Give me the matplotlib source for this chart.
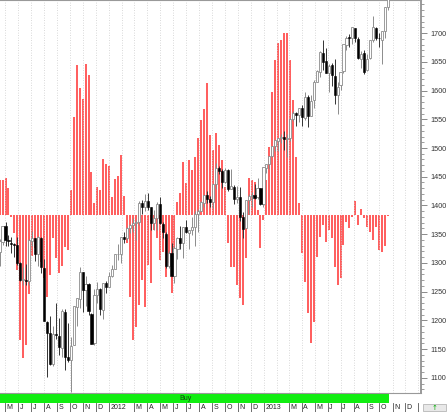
import matplotlib
matplotlib.use('Agg')
import matplotlib.pyplot as plt
import matplotlib.dates as mdates
from matplotlib.patches import Rectangle
from matplotlib.ticker import MultipleLocator
import numpy as np
import pandas as pd

plt.rcParams['font.family'] = ['Liberation Sans', 'DejaVu Sans']

# weekly candles, first week starting 2011-04-18
first_week = '2011-04-18'
opens = [1319.7, 1337, 1365, 1340, 1334, 1333, 1331, 1300, 1271, 1271,
         1268, 1339, 1343, 1315, 1344, 1292, 1198, 1179, 1124, 1177,
         1173, 1153, 1214, 1137, 1131, 1158, 1224, 1238, 1284, 1253,
         1263, 1212, 1161, 1244, 1255, 1219, 1265,
         1258, 1277, 1290, 1315, 1316, 1345, 1343, 1361, 1366, 1370,
         1371, 1404, 1397, 1408, 1397, 1370, 1378, 1403, 1368, 1351,
         1295, 1318, 1278, 1325, 1343, 1334, 1362, 1353, 1357, 1362,
         1386, 1391, 1405, 1418, 1411, 1406, 1438, 1465, 1460, 1441,
         1461, 1428, 1433, 1412, 1414, 1380, 1360, 1409, 1416, 1418,
         1414, 1430, 1402,
         1466, 1472, 1486, 1503, 1513, 1518, 1520, 1516, 1518, 1551,
         1561, 1557, 1569, 1553, 1589, 1556, 1583, 1614, 1633, 1666,
         1652, 1631, 1644, 1626, 1592, 1609, 1634, 1680, 1693, 1691,
         1708, 1689, 1655, 1665, 1636, 1656, 1688, 1709, 1691, 1688,
         1703, 1745]
highs = [1341, 1364.6, 1370.6, 1348, 1346, 1334, 1346, 1302, 1293, 1298,
         1341, 1356, 1344, 1347, 1345, 1307, 1199, 1208, 1190, 1230,
         1204, 1220, 1220, 1195, 1171, 1224.6, 1239, 1292.7, 1285, 1277,
         1266, 1213, 1255, 1267, 1256, 1265.4, 1269,
         1284, 1296, 1315.5, 1333, 1345, 1354, 1363, 1368, 1378, 1374,
         1407, 1409, 1420, 1422, 1397, 1392, 1406, 1415, 1372, 1354,
         1321, 1334, 1330, 1345, 1364, 1363, 1375, 1357, 1380, 1391,
         1394, 1408, 1419, 1426, 1416, 1438, 1474, 1468, 1464, 1465,
         1464, 1464, 1435, 1434, 1433, 1388, 1410, 1420, 1424, 1438,
         1448, 1431, 1467,
         1473, 1486, 1503, 1514, 1518, 1525, 1530, 1525, 1552, 1564,
         1563, 1570, 1574, 1597, 1593, 1592, 1618, 1635, 1668, 1687,
         1674, 1646, 1648, 1654, 1615, 1632, 1680, 1694, 1698, 1710,
         1709, 1693, 1669, 1670, 1664, 1688, 1730, 1710, 1700, 1704,
         1745, 1760]
lows = [1295, 1331, 1329, 1329, 1318, 1311, 1297, 1268, 1262, 1262,
        1262, 1330, 1303, 1295, 1282, 1199, 1102, 1123, 1121, 1167,
        1140, 1137, 1114, 1128, 1074.8, 1157, 1191, 1221, 1215, 1226,
        1209, 1158.7, 1158, 1231, 1209, 1202, 1248,
        1258, 1275, 1290, 1306, 1300, 1335, 1340, 1352, 1354, 1340,
        1366, 1386, 1391, 1392, 1357, 1358, 1358, 1367, 1343, 1292,
        1291, 1277, 1266, 1307, 1324, 1309, 1353, 1325, 1348, 1329,
        1354, 1391, 1398, 1404, 1397, 1396, 1429, 1454, 1430, 1439,
        1425, 1428, 1403, 1405, 1373, 1343, 1360, 1385, 1398, 1411,
        1411, 1401, 1398,
        1457, 1464, 1485, 1495, 1495, 1509, 1497, 1485, 1512, 1547,
        1538, 1546, 1539, 1548, 1537, 1555, 1570, 1614, 1623, 1635,
        1630, 1598, 1608, 1577, 1560, 1601, 1630, 1671, 1676, 1681,
        1684, 1655, 1639, 1628, 1634, 1655, 1684, 1687, 1675, 1646,
        1692, 1740]
closes = [1337.4, 1363.6, 1340.2, 1337.8, 1333.3, 1331.1, 1300.2, 1271.0, 1271.5, 1268.5,
          1339.7, 1343.8, 1316.1, 1345.0, 1292.3, 1199.4, 1178.8, 1123.5, 1176.8, 1174.0,
          1154.2, 1216.0, 1136.4, 1131.4, 1155.5, 1224.6, 1238.3, 1285.1, 1253.2, 1263.9,
          1215.7, 1158.7, 1244.3, 1255.2, 1219.7, 1265.3, 1257.6,
          1277.8, 1289.1, 1315.4, 1316.3, 1344.9, 1342.6, 1361.2, 1365.7, 1369.6, 1370.9,
          1404.2, 1397.1, 1408.5, 1398.1, 1370.3, 1378.5, 1403.4, 1369.1, 1353.4, 1295.2,
          1317.8, 1278.0, 1325.7, 1342.8, 1335.0, 1362.2, 1354.7, 1356.8, 1362.7, 1386.0,
          1391.0, 1405.9, 1418.2, 1411.1, 1406.6, 1437.9, 1465.8, 1460.2, 1440.7, 1460.9,
          1428.6, 1433.2, 1411.9, 1414.2, 1379.9, 1359.9, 1409.2, 1416.2, 1418.1, 1413.6,
          1430.2, 1402.4, 1466.5,
          1472.1, 1486.0, 1503.0, 1513.2, 1517.9, 1519.8, 1515.6, 1518.2, 1551.2, 1560.7,
          1556.9, 1569.2, 1553.3, 1588.9, 1555.3, 1582.2, 1614.4, 1633.7, 1667.5, 1649.6,
          1630.7, 1643.4, 1626.7, 1592.4, 1606.3, 1631.9, 1680.2, 1692.1, 1691.7, 1709.7,
          1691.4, 1655.8, 1663.5, 1633.0, 1655.2, 1688.0, 1709.9, 1691.8, 1690.5, 1703.2,
          1744.5, 1759.8]

# oscillator histogram (one bar per week)
osc = [35, 35, 37, 27, -2, -18, -55, -125, -143, -130,
       -79, -41, -33, -25, -47, -63, -82, -60, -23, -43,
       -58, -51, -32, -35, 25, 98, 150, 127, 116, 151,
       140, 43, 12, 28, 25, 56, 51, 49, 18, 36,
       39, 60, 19, -28, -82, -125, -112, -90, -65, -92,
       -50, -68, -15, -23, -45, -37, -62, -48, -78, -62,
       13, 22, 53, 32, 55, 45, 58, 77, 95, 106,
       132, 80, 65, 82, 70, 55, 28, -28, -52, -52,
       -70, -83, -90, -43, 37, 35, 33, 5, -33, -5,
       35, 68, 123, 155, 172, 175, 182, 182, 155, 115,
       58, 12, -38, -67, -98, -128, -107, -42, -22, -10,
       -27, -15, -23, -52, -70, -63, -30, -7, -13, -2,
       14, -10, 6, -3, -12, -17, -25, -12, -35, -37,
       -31, -1]

signal_text = 'Buy'
signal_start = '2011-03-07'
signal_end = '2013-10-23'

x_from, x_to = '2011-04-19', '2014-01-07'
price_lo, price_hi = 1073.9, 1757.4
osc_lo, osc_hi = -178, 215

dates = pd.date_range(first_week, periods=len(closes), freq='7D')
o = np.array(opens, float)
h = np.array(highs, float)
l = np.array(lows, float)
c = np.array(closes, float)
up = c >= o

W, H = 447, 412
fig = plt.figure(figsize=(W / 100, H / 100), dpi=100)
fig.patch.set_facecolor('white')


def box(x0, y0, x1, y1):
    return [x0 / W, 1 - y1 / H, (x1 - x0) / W, (y1 - y0) / H]


xlim = (mdates.date2num(pd.Timestamp(x_from)), mdates.date2num(pd.Timestamp(x_to)))
months = pd.date_range('2011-05-01', '2014-01-01', freq='MS')

ax = fig.add_axes(box(0, 0, 421, 393))
ax2 = ax.twinx()
ax.set_zorder(2)
ax2.set_zorder(1)
ax.patch.set_visible(False)

# oscillator
ax2.vlines(dates, 0, osc, color='#ff3030', lw=1.1)
ax2.set_ylim(osc_lo, osc_hi)
ax2.set_yticks([])
for s in ax2.spines.values():
    s.set_visible(False)

# candles
ax.vlines(dates[up], l[up], h[up], color='#8c8c8c', lw=0.7, zorder=2)
ax.vlines(dates[~up], l[~up], h[~up], color='#333333', lw=0.7, zorder=2)
ax.bar(dates[up], (c - o)[up], bottom=o[up], width=5, facecolor='white',
       edgecolor='#8c8c8c', lw=0.6, zorder=3)
ax.bar(dates[~up], (o - c)[~up], bottom=c[~up], width=5, facecolor='black',
       edgecolor='black', lw=0.4, zorder=3)

ax.set_xlim(xlim)
ax2.set_xlim(xlim)
ax.set_ylim(price_lo, price_hi)
ax.set_xticks(months)
ax.tick_params(axis='x', length=0, labelbottom=False)
ax.grid(axis='x', color='#cccccc', lw=0.6, ls=(0, (1, 2)))
ax.set_axisbelow(True)

ax.yaxis.tick_right()
ax.set_yticks(range(1100, 1701, 50))
ax.yaxis.set_minor_locator(MultipleLocator(10))
ax.tick_params(axis='y', which='major', length=4, width=0.6, colors='#777777',
               labelcolor='#333333', labelsize=5.2, pad=3)
ax.tick_params(axis='y', which='minor', length=2, width=0.5, colors='#777777')
ax.spines['left'].set_visible(False)
ax.spines['right'].set_color('#888888')
ax.spines['right'].set_linewidth(1.2)
ax.spines['top'].set_color('#999999')
ax.spines['bottom'].set_color('#999999')

# signal strip
axs = fig.add_axes(box(0, 393, 421, 403))
axs.set_xlim(xlim)
axs.set_ylim(0, 1)
s0 = mdates.date2num(pd.Timestamp(signal_start))
s1 = mdates.date2num(pd.Timestamp(signal_end))
axs.axvspan(s0, s1, color='#11ee11', lw=0)
axs.text((s0 + s1) / 2, 0.5, signal_text, ha='center', va='center',
         fontsize=5, color='#114411')
axs.set_xticks([])
axs.set_yticks([])
for s in axs.spines.values():
    s.set_visible(False)

# month row
axm = fig.add_axes(box(0, 403, 421, 412))
axm.set_xlim(xlim)
axm.set_ylim(0, 1)
for m in months:
    if m.month == 2:
        continue
    mx = mdates.date2num(m)
    axm.axvline(mx, color='#555555', lw=0.6)
    if mx + 12 < xlim[1]:
        lab = str(m.year) if m.month == 1 else m.strftime('%b')[0]
        axm.text(mx + 3.5, 0.45, lab, ha='left', va='center', fontsize=5,
                 color='#222222')
axm.set_xticks([])
axm.set_yticks([])
for s in axm.spines.values():
    s.set_visible(False)

# small box bottom right
fig.patches.append(Rectangle((423 / W, 1 - 411 / H), 23 / W, 7 / H,
                             transform=fig.transFigure, facecolor='#e8e8e8',
                             edgecolor='#aaaaaa', lw=0.5))
fig.text(434.5 / W, 1 - 407.5 / H, '\u2191', ha='center', va='center',
         fontsize=5, color='#00aa00', family='DejaVu Sans')

fig.savefig('out.png', dpi=100)
